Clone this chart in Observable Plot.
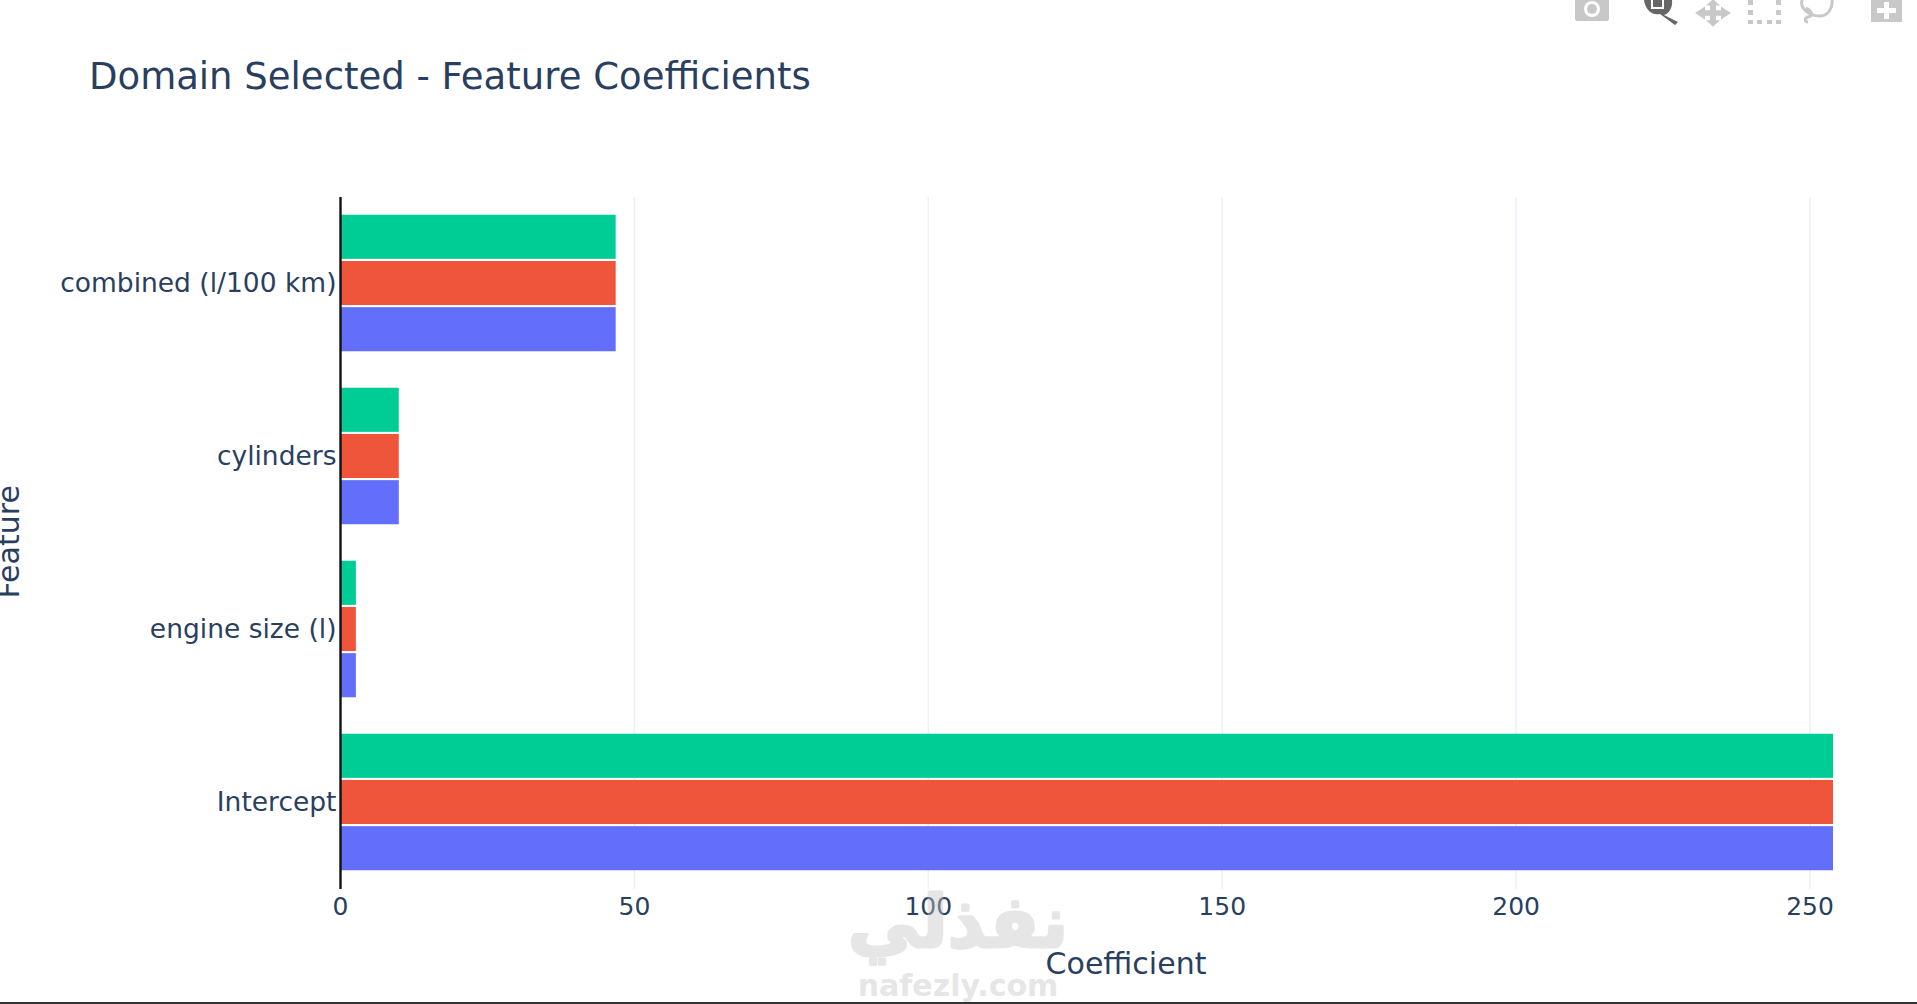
<!DOCTYPE html>
<html>
<head>
<meta charset="utf-8">
<script src="https://cdn.jsdelivr.net/npm/d3@7"></script>
<script src="https://cdn.jsdelivr.net/npm/@observablehq/plot@0.6"></script>
<style>
html,body{margin:0;padding:0;background:#fff;overflow:hidden;width:1917px;height:1004px;position:relative;}
h1{margin:0;height:140px;box-sizing:border-box;padding:53px 0 0 89px;font:400 37px/48px "DejaVu Sans",sans-serif;color:#2a3f5f;white-space:nowrap;}
#chart svg{display:block;}
#bar{position:absolute;left:0;right:0;bottom:0;height:2px;background:#333;}
#tools{position:absolute;left:0;top:0;}
</style>
</head>
<body>
<h1>Domain Selected - Feature Coefficients</h1>
<div id="chart"></div>
<svg id="tools" width="1917" height="30" xmlns="http://www.w3.org/2000/svg">
  <g fill="#c8c8c8">
    <path d="M1575 0h34v19a2 2 0 0 1-2 2h-30a2 2 0 0 1-2-2z"/>
    <circle cx="1592" cy="9" r="8" fill="#fff"/><circle cx="1592" cy="9" r="5"/>
    <path d="M1713 -2l7 7h-4v5h5v-4l10 7-10 7v-4h-5v5h4l-7 7-7-7h4v-5h-5v4l-10-7 10-7v4h5v-5h-4z" transform="translate(0,1) scale(1 .92)"/>
    <path d="M1871 0h31v22h-31z"/><path d="M1884 2h5v6h7v5h-7v6h-5v-6h-7v-5h7z" fill="#fff"/>
  </g>
  <g fill="#c8c8c8">
    <rect x="1748" y="0" width="5" height="5"/><rect x="1776" y="0" width="5" height="5"/>
    <rect x="1748" y="10" width="5" height="5"/><rect x="1776" y="10" width="5" height="5"/>
    <rect x="1748" y="20" width="5" height="4"/><rect x="1757" y="20" width="5" height="4"/><rect x="1767" y="20" width="5" height="4"/><rect x="1776" y="20" width="5" height="4"/>
  </g>
  <path d="M1802 0c-2 8 6 16 18 16c8 0 13-8 12-16M1806 8c6 3 8 8 2 9c-4 1-3 5 0 5" fill="none" stroke="#c8c8c8" stroke-width="3"/>
  <g fill="#666"><path d="M1644 0h28c1 7-3 14-8 15l14 7-3 3-15-11c-8 2-15-5-16-14z"/><rect x="1651" y="0" width="13" height="9" fill="#fff"/><rect x="1653" y="0" width="9" height="7"/></g>
</svg>
<div id="bar"></div>
<script>
const features = ["combined (l/100 km)", "cylinders", "engine size (l)", "Intercept"];
const seriesNames = ["Series 3", "Series 2", "Series 1"];
const seriesColors = ["#00cc96", "#ef553b", "#636efa"];
const series1Values = [46.9, 10, 2.7, 254];
const series2Values = [46.9, 10, 2.7, 254];
const series3Values = [46.9, 10, 2.7, 254];
const xTicks = [0, 50, 100, 150, 200, 250];
const xTitle = "Coefficient";
const yTitle = "Feature";
const watermarkArabic = "نفذلي";
const watermarkLatin = "nafezly.com";

const valuesBySeries = {"Series 1": series1Values, "Series 2": series2Values, "Series 3": series3Values};
const rowsFor = s => features.map((f, i) => ({feature: f, series: s, value: valuesBySeries[s][i]}));
const ink = "#2a3f5f";
const slot = 138.6 / 3;
const seriesBar = (s, k) => Plot.barX(rowsFor(s), {
  x: "value", y: "feature", fill: "series",
  insetTop: k * slot + 0.75, insetBottom: (2 - k) * slot + 0.75
});

const plot = Plot.plot({
  width: 1917,
  height: 864,
  marginLeft: 340,
  marginRight: 84,
  marginTop: 57,
  marginBottom: 115,
  style: {background: "#fff", fontFamily: "'DejaVu Sans', sans-serif"},
  x: {domain: [0, 254], ticks: xTicks},
  y: {domain: features, paddingInner: 0.2, paddingOuter: 0.1, label: null},
  color: {domain: seriesNames, range: seriesColors},
  marks: [
    Plot.ruleX(xTicks.filter(d => d > 0), {stroke: "#ebf0f8", strokeWidth: 1.5}),
    ...seriesNames.map(seriesBar),
    Plot.ruleX([0], {stroke: "#111", strokeWidth: 2.4}),
    Plot.axisX(xTicks, {anchor: "bottom", tickSize: 0, tickPadding: 8, fontSize: 25, fill: ink, label: null, tickFormat: d => String(d)}),
    Plot.axisY({anchor: "left", tickSize: 0, tickPadding: 4, fontSize: 26.5, fill: ink, label: null, tickFormat: d => d, lineWidth: 30}),
    Plot.text([xTitle], {frameAnchor: "bottom", dx: 39, dy: 84, fontSize: 30, fill: ink}),
    Plot.text([yTitle], {frameAnchor: "left", dx: -331, dy: 55, rotate: -90, fontSize: 30, fill: ink}),
    Plot.text([watermarkArabic], {frameAnchor: "bottom", dx: -129, dy: 57, fontSize: 72, fontWeight: 700, fill: "#c4c4c4", stroke: "#c4c4c4", strokeWidth: 3, opacity: 0.42}),
    Plot.text([watermarkLatin], {frameAnchor: "bottom", dx: -129, dy: 106, fontSize: 30, fontWeight: 700, fill: "#c4c4c4", opacity: 0.42})
  ]
});
document.getElementById("chart").append(plot);
</script>
</body>
</html>
